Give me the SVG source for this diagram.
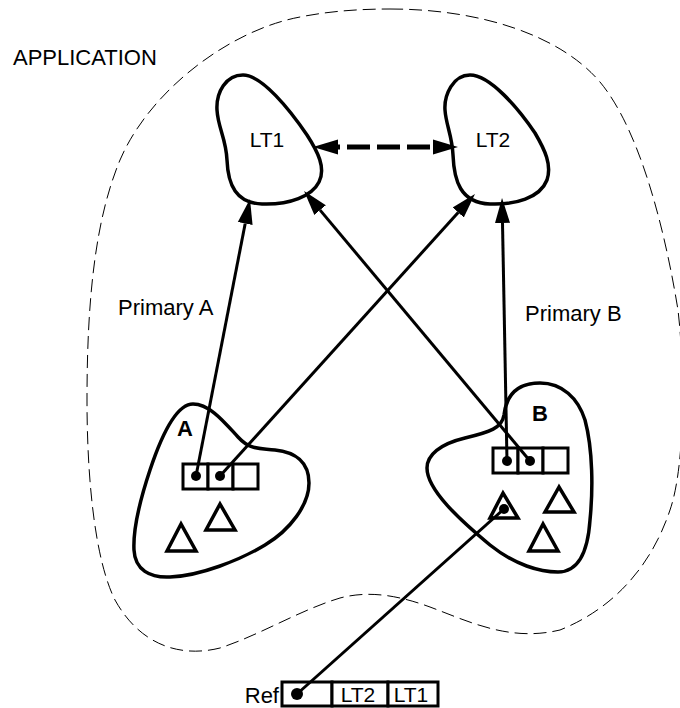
<svg xmlns="http://www.w3.org/2000/svg" width="680" height="708" viewBox="0 0 680 708">
<style>
  .lbl { font-family: "Liberation Sans", Arial, sans-serif; font-size: 22px; fill: #000; }
  .lt { font-family: "Liberation Sans", Arial, sans-serif; font-size: 21px; fill: #000; text-anchor: middle; }
  .bold { font-family: "Liberation Sans", Arial, sans-serif; font-size: 22px; font-weight: bold; fill: #000; text-anchor: middle; }
  .blob { fill: none; stroke: #000; stroke-width: 3.5; stroke-linejoin: round; }
  .cell { fill: #fff; stroke: #000; stroke-width: 3; }
  .tri { fill: none; stroke: #000; stroke-width: 3.5; stroke-linejoin: miter; }
  .conn { fill: none; stroke: #000; stroke-width: 3; }
  .dash { fill: none; stroke: #000; stroke-width: 5; stroke-dasharray: 23 7; stroke-dashoffset: 21; }
  .dot { fill: #000; }
  .app { fill: none; stroke: #000; stroke-width: 1; stroke-dasharray: 13 6; }
</style>
<defs>
  <marker id="ah" markerUnits="userSpaceOnUse" markerWidth="26" markerHeight="16" refX="0" refY="7.5" orient="auto-start-reverse" viewBox="0 0 26 15">
    <path d="M0,0 L25,7.5 L0,15 Z" fill="#000"/>
  </marker>
</defs>

<g id="application">
  <path class="app" d="M 390,9 C 480,9 560,35 600,82 C 640,130 665,230 678,310 C 686,380 684,470 670,510 C 650,570 610,610 560,630 C 510,642 470,622 430,607 C 400,596 370,590 340,598 C 300,610 260,635 220,648 C 180,658 140,645 115,600 C 95,560 87,480 87,400 C 87,300 95,220 120,160 C 150,90 230,30 300,17 C 330,11 360,9 390,9 Z"/>
  <text class="lbl" x="13" y="65">APPLICATION</text>
</g>

<g id="LT1">
  <path class="blob" d="M 243,75 C 226,75 216,92 217,110 C 218,128 226,138 227,160 C 228,185 236,203 262,204 C 290,205 312,196 319,182 C 326,168 318,152 307,135 C 290,110 262,75 243,75 Z"/>
  <text class="lt" x="267" y="147">LT1</text>
</g>

<g id="LT2">
  <path class="blob" d="M 470,75 C 453,75 444,95 445,110 C 446,125 452,135 453,155 C 454,180 460,203 490,204 C 515,205 540,198 547,180 C 552,165 545,150 535,133 C 518,108 490,75 470,75 Z"/>
  <text class="lt" x="493" y="147">LT2</text>
</g>

<g id="A">
  <path class="blob" d="M 193,404 C 175,404 160,440 150,470 C 140,500 133,530 134,550 C 135,570 150,578 170,577 C 200,576 240,560 265,545 C 290,530 309,505 309,483 C 309,462 295,452 275,450 C 258,448 250,450 238,437 C 225,423 210,404 193,404 Z"/>
  <text class="bold" x="185" y="436">A</text>
  <rect class="cell" x="183" y="464" width="25" height="25"/>
  <rect class="cell" x="208" y="464" width="25" height="25"/>
  <rect class="cell" x="233" y="464" width="25" height="25"/>
  <polygon class="tri" points="220,504 206,530 235,530"/>
  <polygon class="tri" points="181,524 167,551 196,551"/>
</g>

<g id="B">
  <path class="blob" d="M 540,383 C 515,383 506,398 504,415 C 502,428 490,432 465,438 C 440,444 427,455 427,468 C 427,490 460,520 490,545 C 515,565 540,572 558,572 C 580,572 588,550 590,520 C 593,490 593,450 585,420 C 578,398 562,383 540,383 Z"/>
  <text class="bold" x="540" y="421">B</text>
  <rect class="cell" x="493" y="448" width="25" height="25"/>
  <rect class="cell" x="518" y="448" width="25" height="25"/>
  <rect class="cell" x="543" y="448" width="25" height="25"/>
  <polygon class="tri" points="503,493 490,518 518,518"/>
  <polygon class="tri" points="559,487 545,512 574,512"/>
  <polygon class="tri" points="543,524 529,551 558,551"/>
</g>

<g id="Ref">
  <text class="lbl" x="279" y="703" text-anchor="end">Ref</text>
  <rect class="cell" x="282" y="682" width="50" height="24"/>
  <rect class="cell" x="332" y="682" width="56" height="24"/>
  <rect class="cell" x="388" y="682" width="50" height="24"/>
  <text class="lt" x="358" y="702">LT2</text>
  <text class="lt" x="411" y="702">LT1</text>
</g>

<g id="connectors">
  <line class="dash" x1="338" y1="147" x2="433" y2="147" marker-start="url(#ah)" marker-end="url(#ah)"/>
  <line class="conn" x1="196" y1="476" x2="245.2" y2="223.5" marker-end="url(#ah)"/>
  <line class="conn" x1="220" y1="476" x2="458.2" y2="212.5" marker-end="url(#ah)"/>
  <line class="conn" x1="530" y1="461" x2="320.1" y2="210.1" marker-end="url(#ah)"/>
  <line class="conn" x1="507" y1="461" x2="502.5" y2="223" marker-end="url(#ah)"/>
  <line class="conn" x1="504" y1="509" x2="297" y2="694"/>
  <circle class="dot" cx="196" cy="476" r="5"/>
  <circle class="dot" cx="220" cy="476" r="5"/>
  <circle class="dot" cx="507" cy="461" r="5"/>
  <circle class="dot" cx="530" cy="461" r="5"/>
  <circle class="dot" cx="504" cy="509" r="5"/>
  <circle class="dot" cx="297" cy="694" r="6"/>
</g>
<text class="lbl" x="118" y="315">Primary A</text>
<text class="lbl" x="525" y="321">Primary B</text>
</svg>
